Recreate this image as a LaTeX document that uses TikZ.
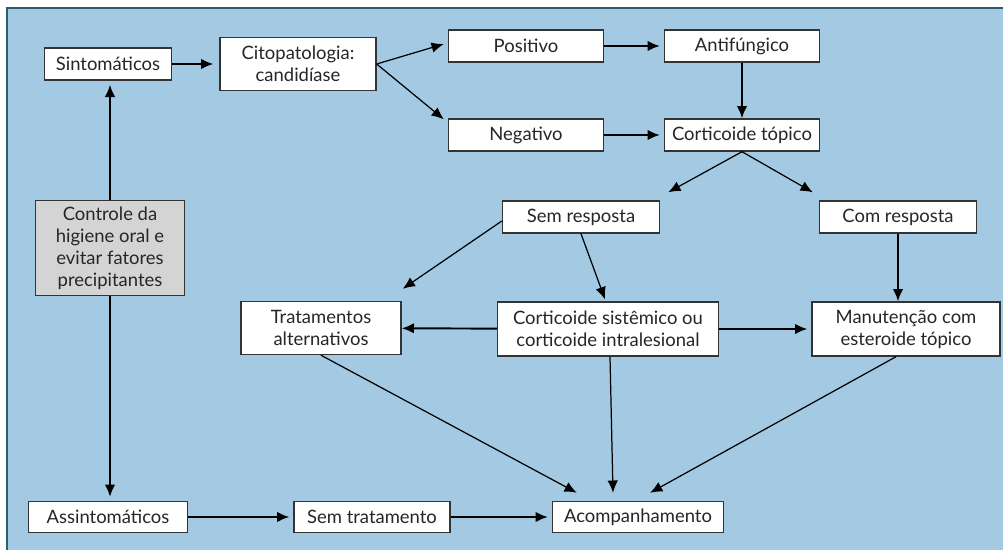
\documentclass[tikz,border=0pt]{standalone}
\usepackage{fontspec}
\setmainfont{Lato}
\usetikzlibrary{arrows.meta,calc}
\definecolor{panelblue}{HTML}{A3CAE2}
\definecolor{paneledge}{HTML}{2E5B6E}
\definecolor{boxgray}{HTML}{D4D4D4}
\tikzset{
  box/.style={draw=black!80, fill=white, line width=0.8pt, inner sep=1pt, align=center, text=black!85, font=\fontsize{10.5}{12.5}\selectfont},
  grbox/.style={box, fill=boxgray},
  flow/.style={line width=1.1pt, -{Latex[length=7pt,width=6pt]}},
  thin flow/.style={line width=0.7pt, -{Latex[length=7pt,width=6pt]}}
}

\begin{document}
\begin{tikzpicture}[x=0.02cm, y=-0.02cm]
		%%%%% PANEL %%%%%
		\useasboundingbox (0,0) rectangle (1003,549);
		\draw[fill=panelblue, draw=paneledge, line width=0.6pt] (7,8) rectangle (1010,560);
		
		%%%%% BOXES %%%%%
		\node[box, minimum width=2.54cm, minimum height=0.64cm] (sinto) at (108,64) {Sintomáticos};
		\node[box, minimum width=3.12cm, minimum height=1.06cm] (cito) at (298,64) {Citopatologia:\\candidíase};
		\node[box, minimum width=3.1cm, minimum height=0.64cm] (pos) at (526,46) {Positivo};
		\node[box, minimum width=3.1cm, minimum height=0.64cm] (antif) at (742,46) {Antifúngico};
		\node[box, minimum width=3.1cm, minimum height=0.64cm] (neg) at (526,135) {Negativo};
		\node[box, minimum width=3.1cm, minimum height=0.64cm] (ctop) at (742,135) {Corticoide tópico};
		\node[box, minimum width=3.14cm, minimum height=0.64cm] (semr) at (581,217) {Sem resposta};
		\node[box, minimum width=3.14cm, minimum height=0.64cm] (comr) at (898,217) {Com resposta};
		\node[box, minimum width=3.2cm, minimum height=1.06cm] (trat) at (321,328) {Tratamentos\\alternativos};
		\node[box, minimum width=4.42cm, minimum height=1.08cm] (csis) at (608,329) {Corticoide sistêmico ou\\corticoide intralesional};
		\node[box, minimum width=3.76cm, minimum height=1.08cm] (manut) at (906,329) {Manutenção com\\esteroide tópico};
		\node[grbox, minimum width=2.98cm, minimum height=1.9cm] (contr) at (110,248) {Controle da\\higiene oral e\\evitar fatores\\precipitantes};
		\node[box, minimum width=3.18cm, minimum height=0.62cm] (assin) at (108,517) {Assintomáticos};
		\node[box, minimum width=3.12cm, minimum height=0.62cm] (semt) at (372,517) {Sem tratamento};
		\node[box, minimum width=3.42cm, minimum height=0.62cm] (acomp) at (638,517) {Acompanhamento};
		
		%%%%% ARROWS %%%%%
		\draw[flow] (contr.north) -- ($(contr.north |- sinto.south)+(0,4)$);
		\draw[flow] (contr.south) -- ($(contr.south |- assin.north)+(0,-4)$);
		\draw[flow] (sinto) -- ($(cito.west)+(-6,0)$);
		\draw[thin flow] (cito.east) -- ($(pos.west)+(-4,-2)$);
		\draw[thin flow] (cito.east) -- ($(neg.north west)+(-4,1)$);
		\draw[flow] (pos) -- ($(antif.west)+(-4,0)$);
		\draw[flow] (neg) -- ($(ctop.west)+(-4,0)$);
		\draw[flow] (antif) -- (ctop);
		\draw[thin flow] (ctop.south) -- ($(semr.north east)+(8,-8)$);
		\draw[thin flow] (ctop.south) -- ($(comr.north west)+(-6,-8)$);
		\draw[thin flow] ($(semr.west)+(0,4)$) -- ($(trat.north east)+(1,-12)$);
		\draw[thin flow] (semr.south) -- ($(csis.north)+(-3,-2)$);
		\draw[flow] (comr.south) -- (comr.south |- manut.north);
		\draw[flow] (csis) -- (trat);
		\draw[flow] (csis) -- ($(manut.west)+(-4,0)$);
		\draw[thin flow] (trat.south) -- ($(acomp.north west)+(25,-8)$);
		\draw[thin flow] ($(csis.south)+(2,0)$) -- ($(acomp.north)+(-25,-8)$);
		\draw[thin flow] ($(manut.south)+(-10,0)$) -- ($(acomp.north)+(12,-8)$);
		\draw[flow] (assin) -- ($(semt.west)+(-4,0)$);
		\draw[flow] (semt) -- ($(acomp.west)+(-4,0)$);
\end{tikzpicture}
\end{document}
